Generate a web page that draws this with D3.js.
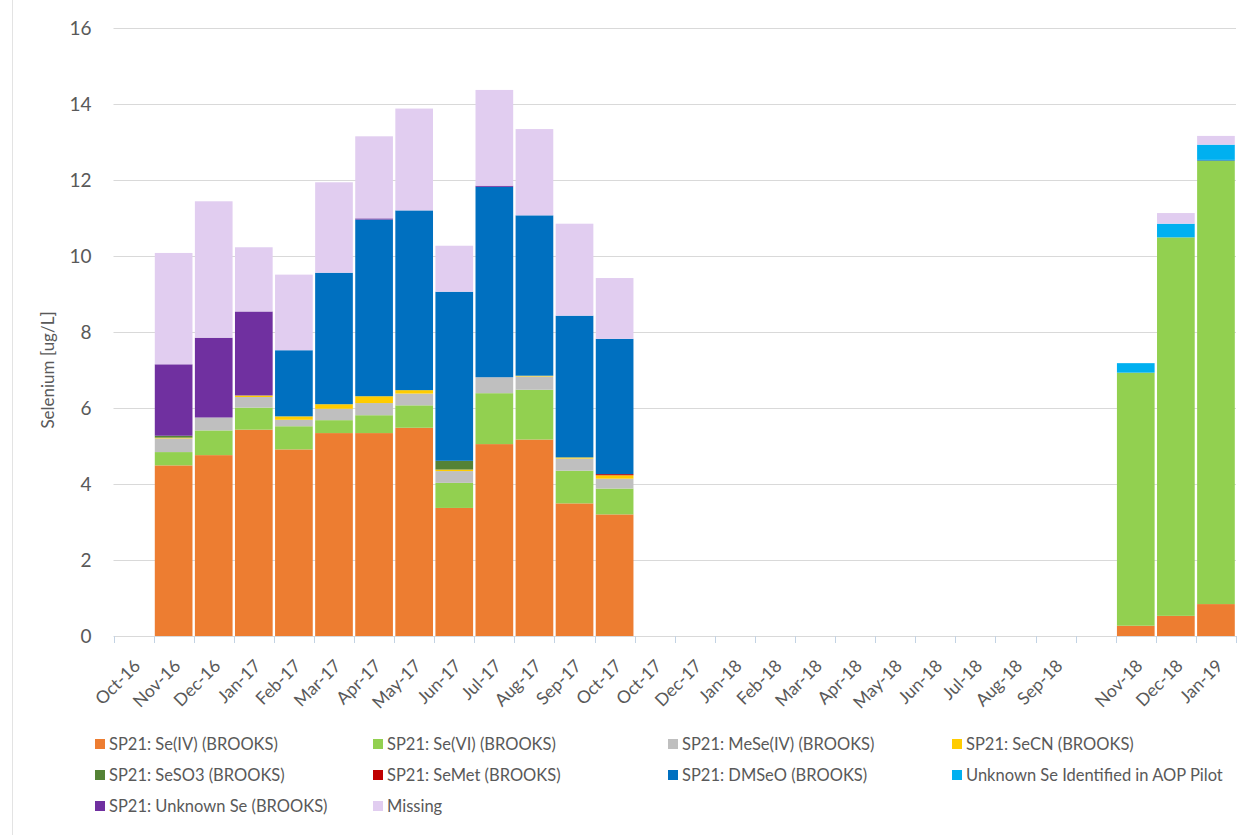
<!DOCTYPE html>
<html>
<head>
<meta charset="utf-8">
<script src="https://cdn.jsdelivr.net/npm/d3@7"></script>
<style>
  body { margin: 0; background: #fff; }
  text { font-family: Lato, "Open Sans", sans-serif; fill: #595959; }
</style>
</head>
<body>
<svg id="chart" width="1254" height="835"></svg>
<script>
// category labels (one per band, some bands empty)
const months = ["Oct-16", "Nov-16", "Dec-16", "Jan-17", "Feb-17", "Mar-17", "Apr-17", "May-17",
  "Jun-17", "Jul-17", "Aug-17", "Sep-17", "Oct-17", "Oct-17", "Dec-17", "Jan-18", "Feb-18",
  "Mar-18", "Apr-18", "May-18", "Jun-18", "Jul-18", "Aug-18", "Sep-18", "", "Nov-18", "Dec-18", "Jan-19"];

// 28 values each: Oct-16 .. Oct-17, 12 empty bands, Nov-18 .. Jan-19
const seIV    = [0, 4.49, 4.76, 5.43, 4.91, 5.34, 5.34, 5.48, 3.37, 5.05, 5.17, 3.49, 3.20,
                 0, 0, 0, 0, 0, 0, 0, 0, 0, 0, 0, 0, 0.27, 0.53, 0.84];
const seVI    = [0, 0.35, 0.65, 0.58, 0.61, 0.34, 0.47, 0.59, 0.66, 1.34, 1.31, 0.86, 0.68,
                 0, 0, 0, 0, 0, 0, 0, 0, 0, 0, 0, 0, 6.66, 9.96, 11.67];
const meSeIV  = [0, 0.36, 0.34, 0.28, 0.17, 0.30, 0.32, 0.31, 0.31, 0.42, 0.35, 0.32, 0.26,
                 0, 0, 0, 0, 0, 0, 0, 0, 0, 0, 0, 0, 0, 0, 0];
const seCN    = [0, 0.02, 0, 0.04, 0.09, 0.12, 0.18, 0.09, 0.04, 0, 0.02, 0.03, 0.09,
                 0, 0, 0, 0, 0, 0, 0, 0, 0, 0, 0, 0, 0, 0, 0];
const seSO3   = [0, 0.05, 0, 0, 0, 0, 0, 0, 0.23, 0, 0, 0, 0,
                 0, 0, 0, 0, 0, 0, 0, 0, 0, 0, 0, 0, 0, 0, 0];
const seMet   = [0, 0, 0, 0, 0, 0, 0, 0, 0, 0, 0, 0, 0.03,
                 0, 0, 0, 0, 0, 0, 0, 0, 0, 0, 0, 0, 0, 0, 0];
const dmSeO   = [0, 0, 0, 0, 1.74, 3.46, 4.65, 4.73, 4.45, 5.01, 4.22, 3.73, 3.56,
                 0, 0, 0, 0, 0, 0, 0, 0, 0, 0, 0, 0, 0, 0, 0.02];
const aopSe   = [0, 0, 0, 0, 0, 0, 0, 0, 0, 0, 0, 0, 0,
                 0, 0, 0, 0, 0, 0, 0, 0, 0, 0, 0, 0, 0.25, 0.36, 0.40];
const unknown = [0, 1.88, 2.10, 2.21, 0, 0, 0.03, 0, 0, 0.03, 0, 0, 0,
                 0, 0, 0, 0, 0, 0, 0, 0, 0, 0, 0, 0, 0, 0, 0];
const missing = [0, 2.93, 3.59, 1.69, 1.99, 2.38, 2.16, 2.68, 1.21, 2.52, 2.27, 2.42, 1.60,
                 0, 0, 0, 0, 0, 0, 0, 0, 0, 0, 0, 0, 0, 0.28, 0.23];

const seriesNames = ["SP21: Se(IV) (BROOKS)", "SP21: Se(VI) (BROOKS)", "SP21: MeSe(IV) (BROOKS)",
  "SP21: SeCN (BROOKS)", "SP21: SeSO3 (BROOKS)", "SP21: SeMet (BROOKS)", "SP21: DMSeO (BROOKS)",
  "Unknown Se Identified in AOP Pilot", "SP21: Unknown Se (BROOKS)", "Missing"];
const seriesValues = [seIV, seVI, meSeIV, seCN, seSO3, seMet, dmSeO, aopSe, unknown, missing];
const seriesColors = ["#ED7D31", "#92D050", "#BFBFBF", "#FFCC00", "#548235", "#C00000",
  "#0070C0", "#00B0F0", "#7030A0", "#E1CDF0"];

const yTicks = [0, 2, 4, 6, 8, 10, 12, 14, 16];

const svg = d3.select("#chart");
const plot = { left: 113.5, right: 1236, top: 28, bottom: 636 };

// faint chart border on the left
svg.append("line")
  .attr("x1", 12.5).attr("x2", 12.5).attr("y1", 0).attr("y2", 835)
  .attr("stroke", "#E3E3E3");

const x = d3.scaleBand()
  .domain(d3.range(months.length))
  .range([plot.left, plot.right])
  .paddingInner(0.06)
  .paddingOuter(0.03);

const y = d3.scaleLinear().domain([0, 16]).range([plot.bottom, plot.top]);

// gridlines
svg.append("g")
  .selectAll("line")
  .data(yTicks.filter(d => d > 0))
  .join("line")
  .attr("x1", plot.left).attr("x2", plot.right)
  .attr("y1", d => Math.round(y(d)) + 0.5).attr("y2", d => Math.round(y(d)) + 0.5)
  .attr("stroke", "#D9D9D9");

// stacked bars
const stack = d3.stack()
  .keys(d3.range(seriesValues.length))
  .value((i, k) => seriesValues[k][i]);
const layers = stack(d3.range(months.length));

svg.append("g")
  .selectAll("g")
  .data(layers)
  .join("g")
  .attr("fill", d => seriesColors[d.key])
  .selectAll("rect")
  .data(d => d.filter(s => s[1] - s[0] > 0).map(s => ({ s, i: s.data })))
  .join("rect")
  .attr("x", d => x(d.i))
  .attr("width", x.bandwidth())
  .attr("y", d => y(d.s[1]))
  .attr("height", d => y(d.s[0]) - y(d.s[1]));

// y axis labels
const yAxis = svg.append("g")
  .attr("transform", `translate(${plot.left},0)`)
  .call(d3.axisLeft(y).tickValues(yTicks).tickSize(0).tickPadding(22));
yAxis.select(".domain").remove();
yAxis.selectAll("text").style("font-size", "19px").style("fill", "#595959");

// x axis line + boundary tick marks
svg.append("line")
  .attr("x1", plot.left).attr("x2", plot.right)
  .attr("y1", plot.bottom + 0.5).attr("y2", plot.bottom + 0.5)
  .attr("stroke", "#D9D9D9");

const half = x.step() * x.paddingInner() / 2;
const bounds = d3.range(months.length).map(i => x(i) - half).concat([plot.right]);
svg.append("g")
  .selectAll("line")
  .data(bounds)
  .join("line")
  .attr("x1", d => Math.round(d) + 0.5).attr("x2", d => Math.round(d) + 0.5)
  .attr("y1", plot.bottom).attr("y2", plot.bottom + 7)
  .attr("stroke", "#C3D3E4");

const xAxis = svg.append("g")
  .attr("transform", `translate(0,${plot.bottom})`)
  .call(d3.axisBottom(x).tickSize(0).tickFormat(i => months[i]));
xAxis.select(".domain").remove();
xAxis.selectAll("text")
  .attr("x", null).attr("y", null).attr("dy", null)
  .attr("transform", "translate(8,31) rotate(-45)")
  .style("text-anchor", "end")
  .style("font-size", "17.5px")
  .style("fill", "#595959");

// y axis title
svg.append("text")
  .attr("transform", "translate(54,370) rotate(-90)")
  .attr("text-anchor", "middle")
  .style("font-size", "17px")
  .text("Selenium [ug/L]");

// legend, 4 columns row-major
const legendCols = [95, 373, 668, 952];
const legendRows = [744, 775, 806];
const legend = svg.append("g")
  .selectAll("g")
  .data(seriesNames.map((name, k) => ({ name, k })))
  .join("g")
  .attr("transform", d => `translate(${legendCols[d.k % 4]},${legendRows[Math.floor(d.k / 4)]})`);
legend.append("rect")
  .attr("x", 0).attr("y", -5).attr("width", 10).attr("height", 10)
  .attr("fill", d => seriesColors[d.k]);
legend.append("text")
  .attr("x", 14).attr("y", 0).attr("dy", "0.35em")
  .style("font-size", "16.5px")
  .text(d => d.name);
</script>
</body>
</html>
